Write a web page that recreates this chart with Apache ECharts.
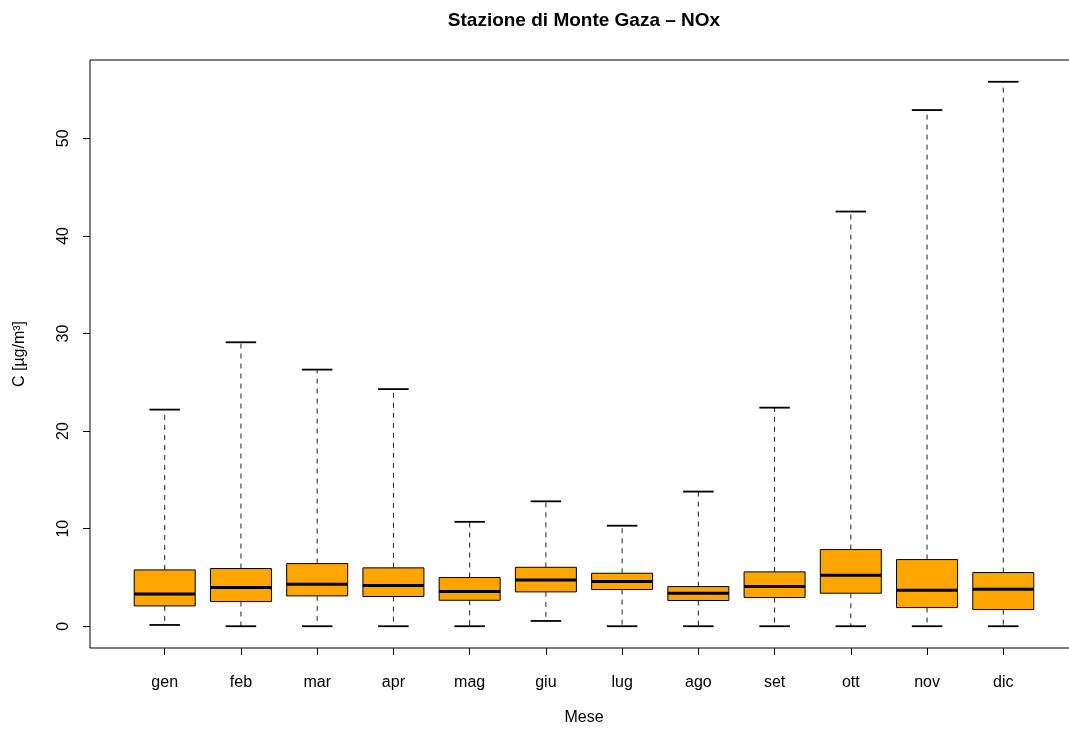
<!DOCTYPE html>
<html>
<head>
<meta charset="utf-8">
<script src="https://cdn.jsdelivr.net/npm/echarts@6/dist/echarts.min.js"></script>
<style>
html,body{margin:0;padding:0;background:#fff;}
#chart{width:1069px;height:729px;}
</style>
</head>
<body>
<div id="chart"></div>
<script>
const months = ['gen','feb','mar','apr','mag','giu','lug','ago','set','ott','nov','dic'];
const whiskerLow  = [0.13, 0, 0, 0, 0, 0.54, 0, 0, 0, 0, 0, 0];
const q1          = [2.08, 2.53, 3.11, 3.04, 2.66, 3.52, 3.76, 2.63, 2.94, 3.38, 1.91, 1.71];
const median      = [3.31, 3.96, 4.30, 4.17, 3.55, 4.75, 4.58, 3.38, 4.07, 5.23, 3.69, 3.79];
const q3          = [5.77, 5.91, 6.42, 5.98, 4.99, 6.04, 5.43, 4.06, 5.57, 7.86, 6.83, 5.50];
const whiskerHigh = [22.2, 29.1, 26.3, 24.3, 10.7, 12.8, 10.3, 13.8, 22.4, 42.5, 52.9, 55.8];
const yTicks = [0, 10, 20, 30, 40, 50];

const boxData = months.map((m, i) => [i + 1, whiskerLow[i], q1[i], median[i], q3[i], whiskerHigh[i]]);
const xTicks = months.map((m, i) => i + 1);

const FONT = '"Liberation Sans", Arial, Helvetica, sans-serif';
const chart = echarts.init(document.getElementById('chart'), null, {renderer: 'canvas'});

function renderItem(params, api) {
  const x = api.value(0);
  const lo = api.coord([x, api.value(1)]);
  const b1 = api.coord([x, api.value(2)]);
  const md = api.coord([x, api.value(3)]);
  const b3 = api.coord([x, api.value(4)]);
  const hi = api.coord([x, api.value(5)]);
  const bw = api.size([0.8, 0])[0];
  const cw = api.size([0.4, 0])[0];
  const cx = lo[0];
  const dash = {stroke: '#222', lineWidth: 1, lineDash: [5, 5]};
  const solid = {stroke: '#000', lineWidth: 1.8};
  return {
    type: 'group',
    children: [
      {type: 'line', shape: {x1: cx, y1: b1[1], x2: cx, y2: lo[1]}, style: dash},
      {type: 'line', shape: {x1: cx, y1: b3[1], x2: cx, y2: hi[1]}, style: dash},
      {type: 'line', shape: {x1: cx - cw / 2, y1: lo[1], x2: cx + cw / 2, y2: lo[1]}, style: solid},
      {type: 'line', shape: {x1: cx - cw / 2, y1: hi[1], x2: cx + cw / 2, y2: hi[1]}, style: solid},
      {type: 'rect', shape: {x: cx - bw / 2, y: b3[1], width: bw, height: b1[1] - b3[1]},
        style: {fill: '#FFA500', stroke: '#000', lineWidth: 1}},
      {type: 'line', shape: {x1: cx - bw / 2, y1: md[1], x2: cx + bw / 2, y2: md[1]},
        style: {stroke: '#000', lineWidth: 3}}
    ]
  };
}

const option = {
  backgroundColor: '#fff',
  animation: false,
  grid: {left: 90, top: 60, width: 988, height: 588, outerBoundsMode: 'none', containLabel: false,
    show: true, borderColor: '#000', borderWidth: 1, backgroundColor: 'transparent'},
  xAxis: {
    type: 'value', min: 0.02, max: 12.98,
    splitLine: {show: false},
    axisLine: {show: false, onZero: false},
    axisTick: {show: true, length: 7, lineStyle: {color: '#000'}, customValues: xTicks},
    axisLabel: {show: true, customValues: xTicks, margin: 27, color: '#000', fontSize: 16, fontFamily: FONT,
      formatter: v => months[Math.round(v) - 1] || ''}
  },
  yAxis: {
    type: 'value', min: -2.232, max: 58.032,
    splitLine: {show: false},
    axisLine: {show: false, onZero: false},
    axisTick: {show: true, length: 7, lineStyle: {color: '#000'}, customValues: yTicks},
    axisLabel: {show: true, customValues: yTicks, rotate: 90, margin: 18, color: '#000', fontSize: 16, fontFamily: FONT}
  },
  graphic: [
    {type: 'text', x: 584, y: 21, style: {text: 'Stazione di Monte Gaza – NOx', font: 'bold 19px ' + FONT, fill: '#000', align: 'center', verticalAlign: 'middle'}},
    {type: 'text', x: 584, y: 718, style: {text: 'Mese', font: '16px ' + FONT, fill: '#000', align: 'center', verticalAlign: 'middle'}},
    {type: 'text', x: 20, y: 354, rotation: Math.PI / 2, style: {text: 'C [µg/m³]', font: '16px ' + FONT, fill: '#000', align: 'center', verticalAlign: 'middle'}}
  ],
  series: [{
    type: 'custom',
    renderItem: renderItem,
    clip: false,
    encode: {x: 0, y: [1, 2, 3, 4, 5]},
    data: boxData
  }]
};
chart.setOption(option);
</script>
</body>
</html>
